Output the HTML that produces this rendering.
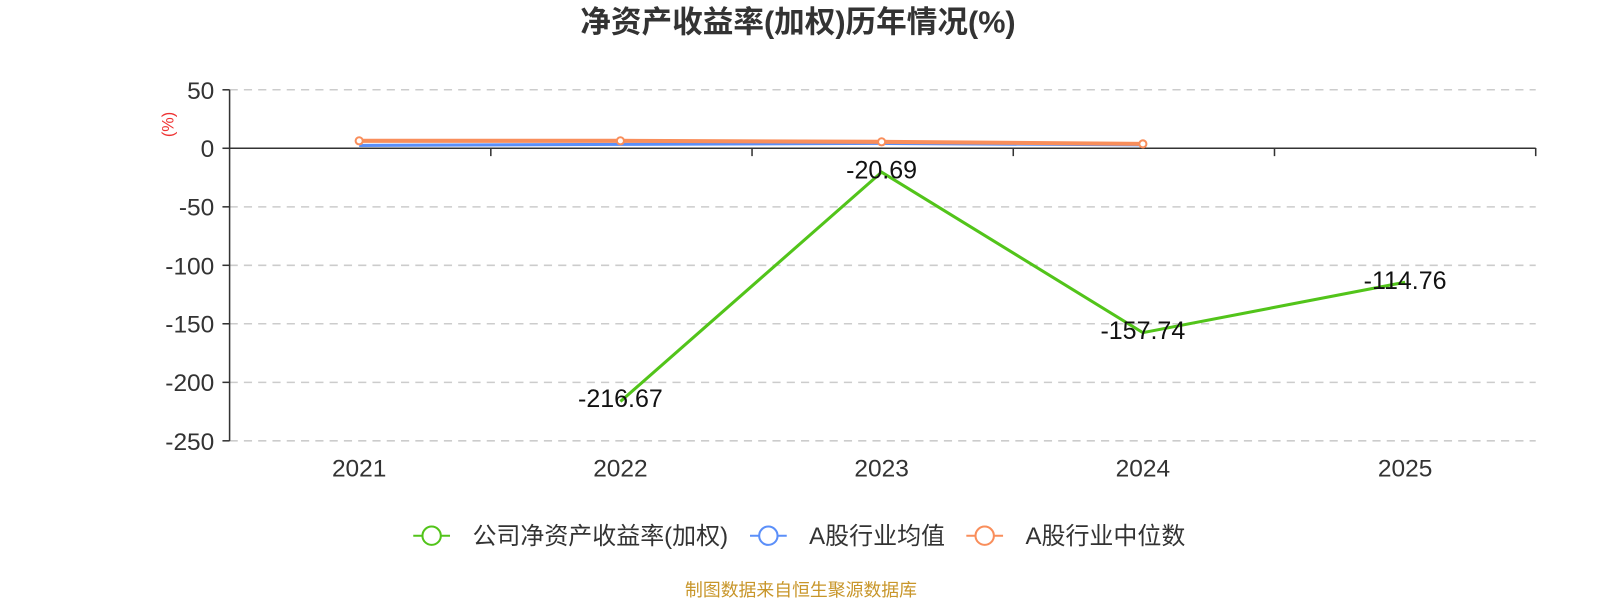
<!DOCTYPE html>
<html><head><meta charset="utf-8"><style>
html,body{margin:0;padding:0;background:#fff;width:1600px;height:600px;overflow:hidden}
svg text{font-family:"Liberation Sans","Noto Sans CJK SC",sans-serif}
</style></head><body>
<svg width="1600" height="600" viewBox="0 0 1568 588" xmlns="http://www.w3.org/2000/svg">
<text x="782" y="32" text-anchor="middle" font-size="30" font-weight="bold" fill="#333">净资产收益率(加权)历年情况(%)</text>
<g stroke="#ccc" stroke-width="1.5" stroke-dasharray="8,6">
<line x1="225" y1="88" x2="1505" y2="88"/>
<line x1="225" y1="202.7" x2="1505" y2="202.7"/>
<line x1="225" y1="260" x2="1505" y2="260"/>
<line x1="225" y1="317.3" x2="1505" y2="317.3"/>
<line x1="225" y1="374.7" x2="1505" y2="374.7"/>
<line x1="225" y1="432" x2="1505" y2="432"/>
</g>
<g stroke="#333" stroke-width="1.5">
<line x1="225" y1="88" x2="225" y2="432"/>
<line x1="225" y1="145.3" x2="1505" y2="145.3"/>
<line x1="218" y1="88" x2="225" y2="88"/>
<line x1="218" y1="145.3" x2="225" y2="145.3"/>
<line x1="218" y1="202.7" x2="225" y2="202.7"/>
<line x1="218" y1="260" x2="225" y2="260"/>
<line x1="218" y1="317.3" x2="225" y2="317.3"/>
<line x1="218" y1="374.7" x2="225" y2="374.7"/>
<line x1="218" y1="432" x2="225" y2="432"/>
<line x1="481" y1="145" x2="481" y2="153"/>
<line x1="737" y1="145" x2="737" y2="153"/>
<line x1="993" y1="145" x2="993" y2="153"/>
<line x1="1249" y1="145" x2="1249" y2="153"/>
<line x1="1505" y1="145" x2="1505" y2="153"/>
</g>
<g font-size="24" fill="#333" text-anchor="end">
<text x="210" y="97">50</text>
<text x="210" y="154">0</text>
<text x="210" y="211">-50</text>
<text x="210" y="269">-100</text>
<text x="210" y="326">-150</text>
<text x="210" y="383">-200</text>
<text x="210" y="441">-250</text>
</g>
<text transform="translate(170,122) rotate(-90)" font-size="16" fill="#e33" text-anchor="middle">(%)</text>
<g font-size="24" fill="#333" text-anchor="middle">
<text x="352" y="467">2021</text>
<text x="608" y="467">2022</text>
<text x="864" y="467">2023</text>
<text x="1120" y="467">2024</text>
<text x="1377" y="467">2025</text>
</g>
<polyline points="352,142.5 608,141.5 864,140.5 1120,142" fill="none" stroke="#5b8ff9" stroke-width="3"/>
<polyline points="352,138 608,138 864,139 1120,141" fill="none" stroke="#f98e5b" stroke-width="4"/>
<g fill="#fff" stroke="#f98e5b" stroke-width="2">
<circle cx="352" cy="138" r="3.5"/><circle cx="608" cy="138" r="3.5"/><circle cx="864" cy="139" r="3.5"/><circle cx="1120" cy="141" r="3.5"/>
</g>
<polyline points="608,393.5 864,168.7 1120,326 1377,276.6" fill="none" stroke="#52c41a" stroke-width="3"/>
<g font-size="24.5" fill="#111" text-anchor="middle">
<text x="608" y="399">-216.67</text>
<text x="864" y="175">-20.69</text>
<text x="1120" y="332">-157.74</text>
<text x="1377" y="283">-114.76</text>
</g>
<g stroke-width="2" fill="#fff">
<line x1="405" y1="525" x2="441" y2="525" stroke="#52c41a"/><circle cx="423" cy="525" r="9" stroke="#52c41a"/>
<line x1="735" y1="525" x2="771" y2="525" stroke="#5b8ff9"/><circle cx="753" cy="525" r="9" stroke="#5b8ff9"/>
<line x1="947" y1="525" x2="983" y2="525" stroke="#f98e5b"/><circle cx="965" cy="525" r="9" stroke="#f98e5b"/>
</g>
<g font-size="23.5" fill="#333">
<text x="463" y="533">公司净资产收益率(加权)</text>
<text x="793" y="533">A股行业均值</text>
<text x="1005" y="533">A股行业中位数</text>
</g>
<text x="785" y="584" font-size="17.5" fill="#c8962a" text-anchor="middle">制图数据来自恒生聚源数据库</text>
</svg>
</body></html>
